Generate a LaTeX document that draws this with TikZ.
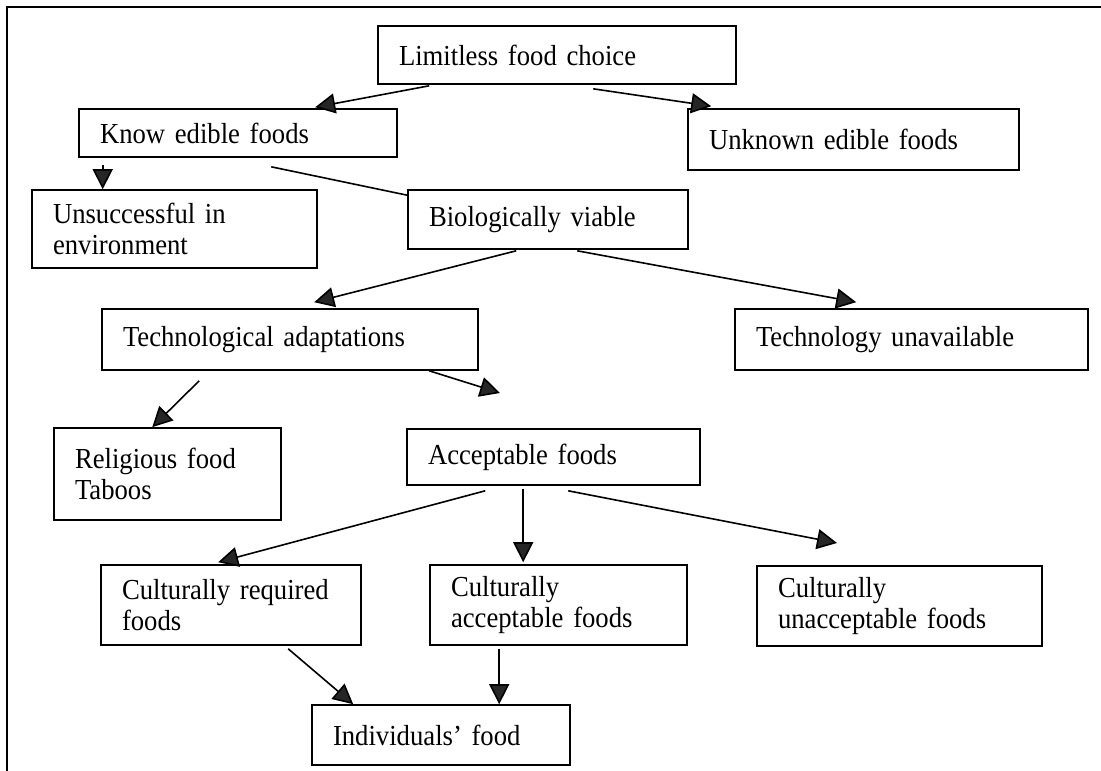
\documentclass[tikz,border=0pt]{standalone}
\usepackage{fontspec}
\setmainfont{Liberation Serif}[FakeStretch=0.92]
\usetikzlibrary{arrows.meta,calc}
\begin{document}
\begin{tikzpicture}[x=1pt,y=-1pt,
  every node/.style={font=\fontsize{29}{31}\selectfont},
  fbox/.style={draw=black, line width=1.6pt, rectangle, inner xsep=21pt, inner ysep=0pt, align=left, anchor=center},
  conn/.style={line width=1.6pt, draw=black},
  arr/.style={conn, -{Triangle[length=20pt,width=20pt,fill=black!85]}}]
\useasboundingbox (0,0) rectangle (1101,771);
% outer frame (top and left only)
\draw[line width=1.6pt] (7,771) -- (7,7) -- (1101,7);
% boxes
\node[fbox, text width=316pt, minimum height=58pt] (lim)    at (557,55)     {Limitless food choice};
\node[fbox, text width=276pt, minimum height=48pt] (know)   at (238,133)    {Know edible foods};
\node[fbox, text width=289pt, minimum height=61pt] (unk)    at (853.5,139.5){Unknown edible foods};
\node[fbox, text width=243pt, minimum height=78pt] (unsuc)  at (174.5,229)  {Unsuccessful in\\environment};
\node[fbox, text width=238pt, minimum height=59pt] (bio)    at (548,219.5)  {Biologically viable};
\node[fbox, text width=334pt, minimum height=61pt] (tech)   at (290,339.5)  {Technological adaptations};
\node[fbox, text width=311pt, minimum height=61pt] (techun) at (911.5,339.5){Technology unavailable};
\node[fbox, text width=185pt, minimum height=92pt] (rel)    at (167.5,474)  {Religious food\\Taboos};
\node[fbox, text width=251pt, minimum height=56pt] (acc)    at (553.5,457)  {Acceptable foods};
\node[fbox, text width=218pt, minimum height=80pt] (creq)   at (231,605)    {Culturally required\\foods};
\node[fbox, text width=215pt, minimum height=80pt] (cacc)   at (558.5,605)  {Culturally\\acceptable foods};
\node[fbox, text width=243pt, minimum height=80pt] (cun)    at (899.5,606)  {Culturally\\unacceptable foods};
\node[fbox, text width=216pt, minimum height=60pt] (ind)    at (441,735)    {Individuals’ food};
% free ends
\coordinate (free1) at (500,393);
\coordinate (free2) at (837,543);
% connectors
\draw[arr] ($(lim.south west)+(52,1)$) -- ($(know.north west)+(237,-1)$);
\draw[arr] ($(lim.south west)+(216,4)$) -- ($(unk.north west)+(24,-2)$);
\draw[arr] ($(know.south west)+(24.5,7)$) -- ($(unsuc.north west)+(71.5,0)$);
\draw[conn] ($(know.south west)+(193,9)$) -- ($(bio.north west)+(0,6)$);
\draw[arr] ($(bio.south west)+(109,1)$) -- ($(tech.north west)+(213,-6)$);
\draw[arr] ($(bio.south west)+(170,1)$) -- ($(techun.north west)+(122,-6)$);
\draw[arr] ($(tech.south west)+(98,10)$) -- ($(rel.north west)+(99,0)$);
\draw[arr] ($(tech.south west)+(328,0)$) -- (free1);
\draw[arr] ($(acc.south west)+(79,5)$) -- ($(creq.north west)+(118,-2)$);
\draw[arr] ($(acc.south west)+(117,3)$) -- ($(cacc.north west)+(94,-2)$);
\draw[arr] ($(acc.south west)+(162,5)$) -- (free2);
\draw[arr] ($(creq.south west)+(188,3)$) -- ($(ind.north west)+(42,0)$);
\draw[arr] ($(cacc.south west)+(70,3)$) -- ($(ind.north west)+(188,0)$);
\end{tikzpicture}
\end{document}
